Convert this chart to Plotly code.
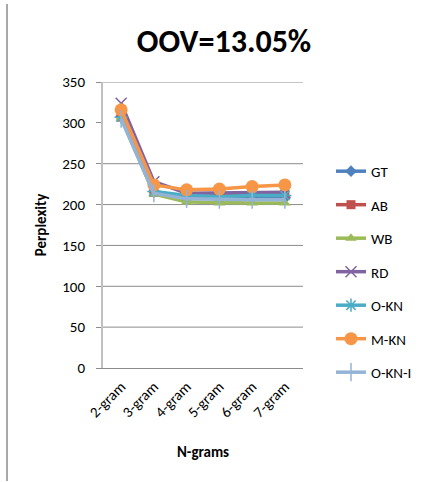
import plotly.graph_objects as go

# Perplexity of each smoothing method by n-gram order
ngrams = ["2-gram", "3-gram", "4-gram", "5-gram", "6-gram", "7-gram"]

gt = [308, 216, 209, 208, 208, 208]
ab = [307, 215, 210, 211, 212, 213]
wb = [306, 213, 203, 202, 202, 202]
rd = [324, 228, 214, 214, 214, 215]
o_kn = [307, 216, 211, 210, 211, 211]
m_kn = [316, 224, 218, 219, 222, 224]
o_kn_i = [305, 214, 207, 206, 206, 206]

grid_levels = [50, 100, 150, 200, 250, 350]

FONT = "Carlito, Lato, 'Liberation Sans', sans-serif"

series = [
    ("GT", gt, "#4F81BD", "diamond", 9, 0),
    ("AB", ab, "#C0504D", "square", 9, 0),
    ("WB", wb, "#9BBB59", "triangle-up", 10, 0),
    ("RD", rd, "#8064A2", "x-thin-open", 11, 1.5),
    ("O-KN", o_kn, "#4BACC6", "asterisk-open", 11, 1.5),
    ("M-KN", m_kn, "#F79646", "circle", 13, 0),
    ("O-KN-I", o_kn_i, "#95B3D7", "line-ns-open", 13, 1.5),
]

fig = go.Figure()
for name, vals, color, symbol, size, mlw in series:
    marker = dict(symbol=symbol, size=size, color=color)
    if mlw:
        mc = "#5a6b85" if name == "O-KN-I" else color
        marker["line"] = dict(color=mc, width=mlw)
    fig.add_trace(go.Scatter(
        x=ngrams, y=vals, name=name, mode="lines+markers",
        line=dict(color=color, width=3.5), marker=marker,
        legendgroup=name,
    ))

shapes = [
    dict(type="line", xref="paper", x0=0, x1=1, yref="y", y0=v, y1=v,
         line=dict(color="#8c8c8c", width=1), layer="below")
    for v in grid_levels
]
# outer chart frame: left edge
frame = dict(color="#a8a8a8", width=2)
shapes.append(dict(type="line", xref="paper", yref="paper",
                   x0=-0.48, x1=-0.48, y0=-0.395, y1=1.2727, line=frame))

fig.update_layout(
    width=435, height=482,
    margin=dict(l=103, r=132, t=82, b=114),
    paper_bgcolor="white", plot_bgcolor="white",
    font=dict(family=FONT, color="#000000", size=15),
    title=dict(text="<b>OOV=13.05%</b>", x=0.515, xanchor="center",
               y=0.915, yanchor="middle",
               font=dict(size=32, family=FONT, color="#000000")),
    showlegend=True,
    legend=dict(x=1.14, y=0.745, xanchor="left", yanchor="top",
                font=dict(size=15, family=FONT), tracegroupgap=11,
                bgcolor="rgba(0,0,0,0)"),
    shapes=shapes,
)

fig.update_xaxes(
    showgrid=False, showline=True, linecolor="#8c8c8c", linewidth=1,
    tickangle=-45, tickfont=dict(size=15, family=FONT), ticks="",
    ticklabelstandoff=3,
    title=dict(text="<b>N-grams</b>", font=dict(size=15, family=FONT), standoff=26),
)
fig.update_yaxes(
    range=[0, 350], dtick=50, showgrid=False, zeroline=False,
    showline=True, linecolor="#c0c0c0", linewidth=2,
    ticks="outside", ticklen=5, tickcolor="#8c8c8c",
    ticklabelstandoff=8,
    tickfont=dict(size=15, family=FONT),
    title=dict(text="<b>Perplexity</b>", font=dict(size=15, family=FONT), standoff=12),
)

fig.write_html("out.html")
